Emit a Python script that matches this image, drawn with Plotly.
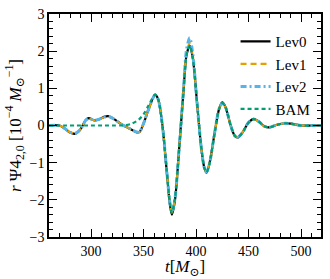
import plotly.graph_objects as go

# time samples [M_sun]
t = [260, 270, 275, 280, 285, 290, 295, 298, 303, 308, 313, 317, 322, 328, 333, 338,
     343, 346, 350, 355, 361, 364, 368, 372, 375, 377, 380, 384, 388, 391, 394, 397,
     401, 405, 408, 410, 413, 418, 422, 425, 428, 433, 437, 440, 444, 450, 455, 460,
     465, 470, 477, 485, 490, 500, 510, 520]

lev0 = [0.0, 0.0, -0.08, -0.19, -0.22, -0.1, 0.15, 0.2, 0.14, 0.17, 0.24, 0.25, 0.17, 0.05, -0.03, -0.1,
        -0.18, -0.18, 0.05, 0.45, 0.83, 0.7, 0.0, -1.2, -2.1, -2.4, -2.0, -0.6, 0.9, 1.9, 2.15, 1.8,
        0.6, -0.6, -1.15, -1.27, -1.0, -0.15, 0.45, 0.62, 0.5, 0.0, -0.28, -0.32, -0.2, 0.08, 0.18, 0.1,
        -0.02, -0.05, 0.02, 0.06, 0.05, 0.0, 0.0, 0.0]

lev1 = [0.0, 0.0, -0.08, -0.18, -0.21, -0.1, 0.14, 0.19, 0.14, 0.17, 0.23, 0.24, 0.17, 0.05, -0.03, -0.1,
        -0.17, -0.18, 0.05, 0.45, 0.82, 0.7, 0.0, -1.18, -2.05, -2.33, -1.95, -0.6, 0.92, 1.95, 2.22, 1.85,
        0.6, -0.6, -1.15, -1.25, -1.0, -0.15, 0.45, 0.6, 0.5, 0.0, -0.28, -0.31, -0.2, 0.08, 0.17, 0.1,
        -0.02, -0.05, 0.02, 0.06, 0.05, 0.0, 0.0, 0.0]

lev2 = [0.0, 0.0, -0.08, -0.18, -0.21, -0.1, 0.14, 0.19, 0.14, 0.17, 0.23, 0.24, 0.17, 0.05, -0.03, -0.1,
        -0.17, -0.18, 0.05, 0.45, 0.82, 0.7, 0.0, -1.18, -2.05, -2.33, -1.95, -0.6, 0.95, 2.05, 2.36, 1.9,
        0.6, -0.6, -1.15, -1.25, -1.0, -0.15, 0.45, 0.6, 0.5, 0.0, -0.28, -0.31, -0.2, 0.08, 0.17, 0.1,
        -0.02, -0.05, 0.02, 0.06, 0.05, 0.0, 0.0, 0.0]

bam = [0.0, 0.0, 0.0, 0.0, 0.0, 0.0, 0.0, 0.0, 0.0, 0.0, 0.0, 0.0, 0.0, 0.0, 0.01, 0.04,
       0.11, 0.17, 0.3, 0.55, 0.83, 0.7, 0.0, -1.18, -2.05, -2.35, -1.95, -0.6, 0.9, 1.9, 2.15, 1.8,
       0.6, -0.6, -1.15, -1.26, -1.0, -0.15, 0.45, 0.61, 0.5, 0.0, -0.28, -0.31, -0.2, 0.08, 0.17, 0.1,
       -0.02, -0.05, 0.02, 0.06, 0.05, 0.0, 0.0, 0.0]

series = [
    ("Lev0", lev0, dict(color="black", width=2.2, dash="solid")),
    ("Lev1", lev1, dict(color="#E69F00", width=2.2, dash="6px,4px")),
    ("Lev2", lev2, dict(color="#56B4E9", width=3, dash="6px,3px,2px,3px")),
    ("BAM", bam, dict(color="#009E73", width=2.2, dash="4px,3px")),
]

fig = go.Figure()
for name, y, line in series:
    fig.add_trace(go.Scatter(x=t, y=y, name=name, mode="lines", hoverinfo="skip",
                             line=dict(shape="spline", smoothing=0.8, **line)))

font = dict(family="Liberation Serif, DejaVu Serif, serif", size=14, color="black")
axis = dict(showline=True, linecolor="black", linewidth=1.5, mirror="allticks",
            ticks="inside", ticklen=8, tickwidth=1.3, tickcolor="black",
            showgrid=False, zeroline=False,
            minor=dict(ticks="inside", ticklen=4, tickwidth=1, tickcolor="black"))

fig.update_layout(
    width=330, height=279,
    margin=dict(l=49, r=7, t=13, b=42),
    plot_bgcolor="white", paper_bgcolor="white",
    font=font,
    showlegend=True,
    legend=dict(x=0.98, y=0.95, xanchor="right", yanchor="top",
                bgcolor="rgba(0,0,0,0)", font=dict(size=15), tracegroupgap=0,
                itemwidth=30),
    xaxis=dict(range=[260, 519], tickvals=[300, 350, 400, 450, 500],
               title=dict(text="<i>t</i>[<i>M</i><sub>⊙</sub>]", standoff=2),
               **{**axis, "minor": dict(axis["minor"], dtick=10, tick0=0)}),
    yaxis=dict(range=[-3, 3], tickvals=[-3, -2, -1, 0, 1, 2, 3],
               ticktext=["−3", "−2", "−1", "0", "1", "2", "3"],
               title=dict(text="<i>r</i> Ψ4<sub>2,0</sub> [10<sup>−4</sup> <i>M</i><sub>⊙</sub><sup>−1</sup>]",
                          standoff=4),
               **{**axis, "minor": dict(axis["minor"], dtick=0.2, tick0=0)}),
)

# drop the page's default body margin so the figure sits at the window corner
fig.write_html("out.html", config={"displayModeBar": False},
               post_script="document.body.style.margin='0px';")
